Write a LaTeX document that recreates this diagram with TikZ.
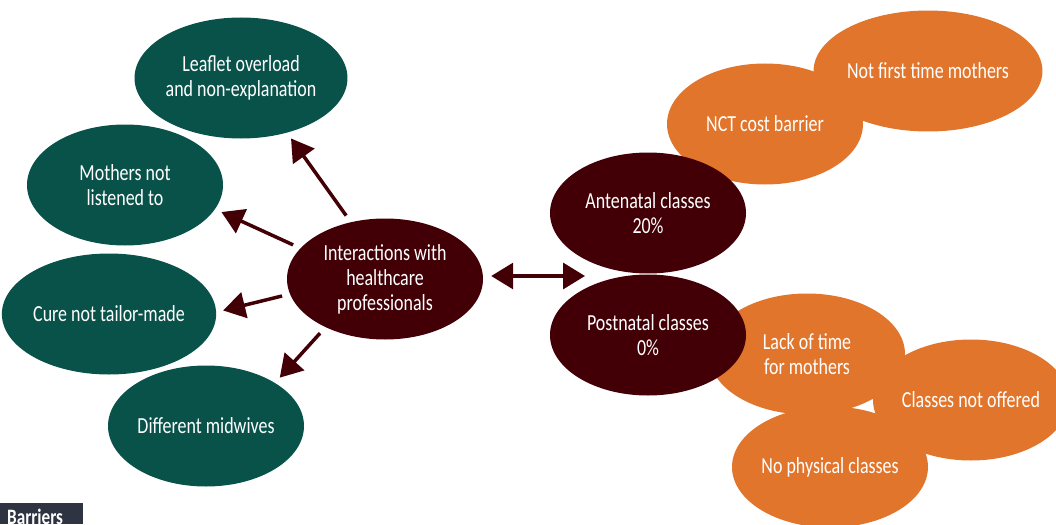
\documentclass[tikz,border=0pt]{standalone}
\usepackage{fontspec}
\setmainfont{Carlito}[FakeStretch=0.78]
\usetikzlibrary{shapes.geometric,arrows.meta}
\definecolor{gfill}{HTML}{08524A}
\definecolor{mfill}{HTML}{420006}
\definecolor{ofill}{HTML}{E1752C}
\definecolor{bfill}{HTML}{2E3441}
\begin{document}
\begin{tikzpicture}[x=1pt,y=-1pt,
  bub/.style={ellipse, minimum width=196pt, minimum height=121pt, inner sep=0pt,
    text=white, align=center, font=\fontsize{23}{25}\selectfont},
  gbub/.style={bub, fill=gfill},
  mbub/.style={bub, fill=mfill},
  obub/.style={bub, fill=ofill},
  conn/.style={draw=mfill, line width=3.5pt, -{Triangle[length=22pt,width=26pt]},
    shorten <=8pt, shorten >=7pt},
  dconn/.style={draw=mfill, line width=3.3pt,
    {Triangle[length=22pt,width=26pt]}-{Triangle[length=22pt,width=26pt]}},
  tag/.style={fill=bfill, text=white, font=\bfseries\fontsize{22}{22}\selectfont,
    anchor=north west, inner xsep=7pt, inner ysep=0pt, text width=69pt, align=left,
    text height=21pt, text depth=0pt}]
\useasboundingbox (0,0) rectangle (1056,524);
\clip (0,0) rectangle (1056,524);
% orange barriers
\node[obub] (notfirst) at (928,71) {Not first time mothers};
\node[obub] (nct) at (765,124) {NCT cost barrier};
\node[obub] (notoffered) at (971,400) {Classes not offered};
\node[obub] (lack) at (807,354) {Lack of time\\for mothers};
\node[obub] (nophys) at (830,467) {No physical classes};
% maroon
\node[mbub] (ante) at (648,213) {Antenatal classes\\20\%};
\node[mbub] (post) at (648,335) {Postnatal classes\\0\%};
\node[mbub] (inter) at (385,279) {Interactions with\\healthcare\\professionals};
% green
\node[gbub] (leaflet) at (241,78) {Leaflet overload\\and non-explanation};
\node[gbub] (mothers) at (125,185) {Mothers not\\listened to};
\node[gbub] (cure) at (109,314) {Cure not tailor-made};
\node[gbub] (midwives) at (206,426) {Different midwives};
% connectors
\draw[conn] (inter.121.6) -- (leaflet.310.8);
\draw[conn] (inter.160.9) -- (mothers.345.3);
\draw[conn] (inter.189.3) -- (cure.1.8);
\draw[conn] (inter.219.2) -- (midwives.32.8);
\coordinate (classes) at (585,276);
\draw[dconn, shorten <=8pt] (inter.east |- classes) -- (classes);
% label
\node[tag] (barriers) at (0,503) {Barriers};
\end{tikzpicture}
\end{document}
